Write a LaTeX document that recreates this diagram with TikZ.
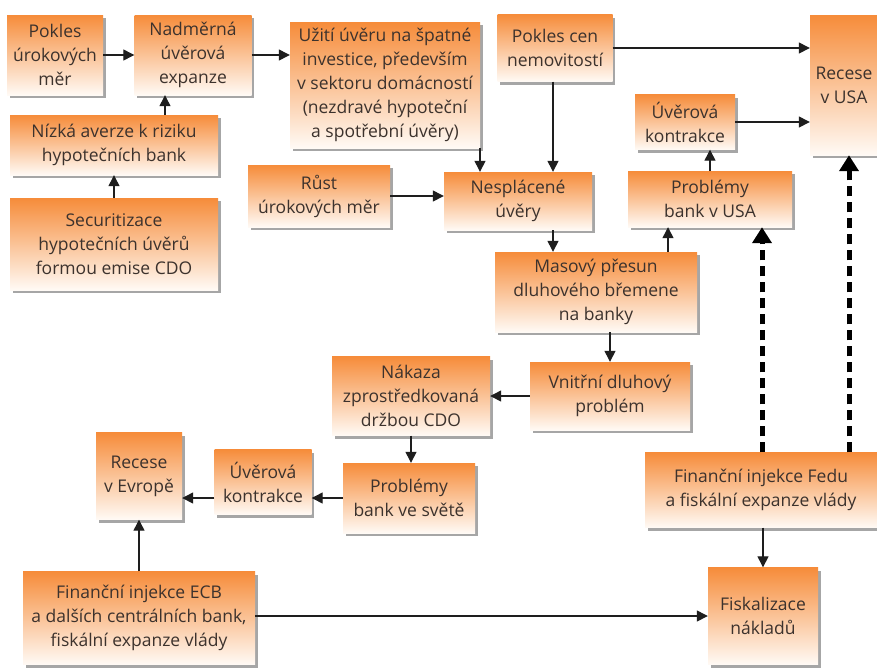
\documentclass[tikz,border=0pt]{standalone}
\usepackage{fontspec}
\setmainfont{Open Sans}
\usetikzlibrary{arrows.meta,shadows,calc}
\definecolor{boxtop}{RGB}{246,140,58}
\definecolor{boxbot}{RGB}{255,250,245}
\definecolor{txt}{RGB}{60,50,45}
\definecolor{ln}{RGB}{30,30,30}
\begin{document}
\begin{tikzpicture}[x=1pt,y=-1pt,
  box/.style={top color=boxtop, bottom color=boxbot, draw=none, inner sep=0pt,
    align=center, text=txt, font=\fontsize{17.5}{24}\selectfont,
    drop shadow={shadow xshift=2.5pt, shadow yshift=-3pt, fill=black, opacity=0.35}},
  arr/.style={draw=ln, line width=1.3pt, -{Triangle[length=11pt,width=11pt]}},
  darr/.style={draw=black, line width=5pt, dash pattern=on 10pt off 6pt, -{Triangle[length=16pt,width=19pt]}}]
\useasboundingbox (0,0) rectangle (877,670);
\fill[white] (0,0) rectangle (877,670);

\node[box, minimum width=96, minimum height=80] (pu) at (55,55) {Pokles\\úrokových\\měr};
\node[box, minimum width=117, minimum height=80] (nad) at (193,55) {Nadměrná\\úvěrová\\expanze};
\node[box, minimum width=190, minimum height=126] (uz) at (385,85) {Užití úvěru na špatné\\investice, především\\v sektoru domácností\\(nezdravé hypoteční\\a spotřební úvěry)};
\node[box, minimum width=115, minimum height=67] (pc) at (555,48) {Pokles cen\\nemovitostí};
\node[box, minimum width=68, minimum height=140] (rusa) at (844,85) {Recese\\v USA};
\node[box, minimum width=100, minimum height=55] (uk) at (685,122) {Úvěrová\\kontrakce};
\node[box, minimum width=208, minimum height=60] (niz) at (114,145) {Nízká averze k riziku\\hypotečních bank};
\node[box, minimum width=208, minimum height=92] (sec) at (114,244) {Securitizace\\hypotečních úvěrů\\formou emise CDO};
\node[box, minimum width=142, minimum height=62] (rust) at (319,196) {Růst\\úrokových měr};
\node[box, minimum width=148, minimum height=58] (nes) at (518,201) {Nesplácené\\úvěry};
\node[box, minimum width=164, minimum height=56] (pusa) at (710,199) {Problémy\\bank v USA};
\node[box, minimum width=202, minimum height=80] (mas) at (596,292) {Masový přesun\\dluhového břemene\\na banky};
\node[box, minimum width=160, minimum height=68] (vni) at (610,396) {Vnitřní dluhový\\problém};
\node[box, minimum width=158, minimum height=79] (nak) at (411,396) {Nákaza\\zprostředkovaná\\držbou CDO};
\node[box, minimum width=132, minimum height=70] (pbs) at (409,498) {Problémy\\bank ve světě};
\node[box, minimum width=97, minimum height=65] (uke) at (263,482) {Úvěrová\\kontrakce};
\node[box, minimum width=86, minimum height=87] (reu) at (139,476) {Recese\\v Evropě};
\node[box, minimum width=232, minimum height=93] (ecb) at (139,618) {Finanční injekce ECB\\a dalších centrálních bank,\\fiskální expanze vlády};
\node[box, minimum width=232, minimum height=75] (fed) at (761,490) {Finanční injekce Fedu\\a fiskální expanze vlády};
\node[box, minimum width=110, minimum height=97] (fis) at (763,616) {Fiskalizace\\nákladů};

\draw[arr] (pu.east) -- (nad.west);
\draw[arr] (nad.east) -- (nad.east -| uz.west);
\draw[arr] ([xshift=51pt]niz.north) -- ([xshift=51pt]niz.north |- nad.south);
\draw[arr] (sec.north) -- (niz.south);
\draw[arr] ([xshift=95pt]uz.south) -- ([xshift=95pt]uz.south |- nes.north);
\draw[arr] ([xshift=-2pt]pc.south) -- ([xshift=-2pt]pc.south |- nes.north);
\draw[arr] (pc.east) -- (pc.east -| rusa.west);
\draw[arr] (uk.east) -- (uk.east -| rusa.west);
\draw[arr] (rust.east) -- (rust.east -| nes.west);
\draw[arr] ([xshift=35pt]nes.south) -- ([xshift=35pt]nes.south |- mas.north);
\draw[arr] ([xshift=72pt]mas.north) -- ([xshift=72pt]mas.north |- pusa.south);
\draw[arr] (pusa.north) -- (pusa.north |- uk.south);
\draw[arr] (vni.north |- mas.south) -- (vni.north);
\draw[arr] (vni.west) -- (vni.west -| nak.east);
\draw[arr] (nak.south) -- (nak.south |- pbs.north);
\draw[arr] (pbs.west) -- (pbs.west -| uke.east);
\draw[arr] (pbs.west -| uke.west) -- (pbs.west -| reu.east);
\draw[arr] (ecb.north) -- (ecb.north |- reu.south);
\draw[arr] ([yshift=2pt]ecb.east) -- ([yshift=2pt]ecb.east -| fis.west);
\draw[arr] (fis.north |- fed.south) -- (fis.north);
\draw[darr] ([xshift=1pt]fed.north) -- ([xshift=1pt]fed.north |- pusa.south);
\draw[darr] ([xshift=88pt]fed.north) -- ([xshift=88pt]fed.north |- rusa.south);
\end{tikzpicture}
\end{document}
